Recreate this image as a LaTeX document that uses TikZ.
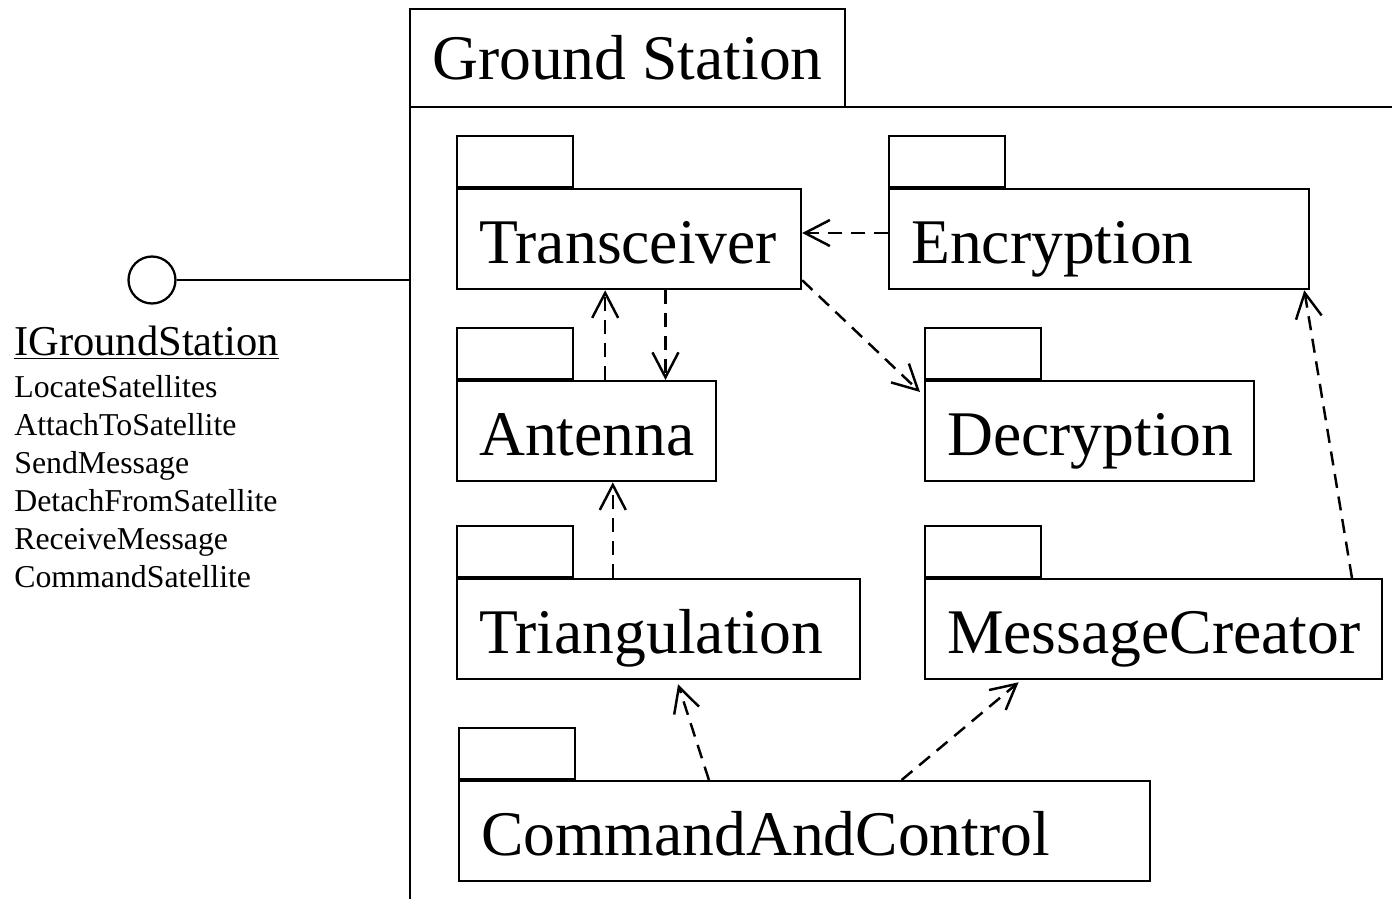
\documentclass[tikz,border=0pt]{standalone}
\usepackage{fontspec}
\setmainfont{Liberation Serif}
\usepackage{tikz}
\usetikzlibrary{arrows.meta,calc}

\tikzset{
  pkg/.style={draw, line width=1.3pt, anchor=north west, minimum height=2cm,
    inner xsep=0.44cm, inner ysep=0pt, text width=#1, align=left,
    text height=1.48cm, text depth=0.52cm,
    font=\fontsize{36.2}{40}\selectfont},
  tabbox/.style={draw, line width=1.3pt, anchor=south west, minimum width=2.32cm,
    minimum height=1.02cm, inner sep=0pt},
  dep/.style={line width=1.4pt, dash pattern=on 8pt off 5pt,
    -{Straight Barb[length=0.5cm, width=0.52cm]}},
  op/.style={anchor=base west, inner sep=0pt, font=\fontsize{18.1}{21}\selectfont},
}

\begin{document}
\begin{tikzpicture}[x=0.02cm, y=0.02cm]
        \useasboundingbox (0,0) rectangle (1392,-899);

        % outer package
        \node[draw, line width=1.4pt, anchor=north west, minimum width=8.7cm,
              minimum height=1.96cm, inner sep=0pt, outer sep=0pt,
              font=\fontsize{36.2}{40}\selectfont] (gs) at (410,-9) {Ground Station};
        \coordinate (frame right) at (1392,-107);
        \coordinate (frame bottom) at (410,-899);
        \draw[line width=1.4pt] (gs.south east) -- (gs.south east -| frame right);
        \draw[line width=1.4pt] (gs.south west) -- (gs.south west |- frame bottom);

        % interface
        \node[draw, circle, line width=1.3pt, minimum size=0.94cm, inner sep=0pt] (iface) at (152,-280) {};
        \draw[line width=1.3pt] (iface.east) -- (iface.east -| gs.south west);
        \node[anchor=base west, inner sep=0pt, font=\fontsize{24.2}{28}\selectfont] (ifname) at (14,-355) {\underline{IGroundStation}};
        \node[op] (op1) at (14,-397) {LocateSatellites};
        \node[op] (op2) at (14,-435) {AttachToSatellite};
        \node[op] (op3) at (14,-473) {SendMessage};
        \node[op] (op4) at (14,-511) {DetachFromSatellite};
        \node[op] (op5) at (14,-549) {ReceiveMessage};
        \node[op] (op6) at (14,-587) {CommandSatellite};

        % packages
        \node[pkg=6.00cm] (trans) at (456,-188) {Transceiver};
        \node[pkg=7.52cm] (enc) at (888,-188) {Encryption};
        \node[pkg=4.30cm] (ant) at (456,-380) {Antenna};
        \node[pkg=5.70cm] (dec) at (924,-380) {Decryption};
        \node[pkg=7.18cm] (tri) at (456,-578) {Triangulation};
        \node[pkg=8.26cm] (mc) at (924,-578) {MessageCreator};
        \node[pkg=12.94cm] (cac) at (458,-780) {CommandAndControl};

        \node[tabbox] (trans tab) at (trans.north west) {};
        \node[tabbox] (enc tab) at (enc.north west) {};
        \node[tabbox] (ant tab) at (ant.north west) {};
        \node[tabbox] (dec tab) at (dec.north west) {};
        \node[tabbox] (tri tab) at (tri.north west) {};
        \node[tabbox] (mc tab) at (mc.north west) {};
        \node[tabbox] (cac tab) at (cac.north west) {};

        % dependencies
        \draw[dep] ($(enc.north west)!0.44!(enc.south west)$) coordinate (e1) -- (e1 -| trans.east);
        \draw[dep] ($(ant.north west)!0.571!(ant.north east)$) coordinate (a1) -- (a1 |- trans.south);
        \draw[dep] ($(trans.south west)!0.605!(trans.south east)$) coordinate (t1) -- (t1 |- ant.north);
        \draw[dep] ($(trans.south east)+(0,10)$) -- ($(dec.north west)+(-4,-12)$);
        \draw[dep] ($(tri.north west)!0.387!(tri.north east)$) coordinate (r1) -- (r1 |- ant.south);
        \draw[dep] ($(mc.north west)!0.932!(mc.north east)$) -- ($(enc.south west)!0.986!(enc.south east)$);
        \draw[dep] ($(cac.north west)!0.362!(cac.north east)$) -- ($(tri.south west)!0.548!(tri.south east)+(0,-4)$);
        \draw[dep] ($(cac.north west)!0.64!(cac.north east)$) -- ($(mc.south west)!0.206!(mc.south east)+(0,-2)$); % cac -> mc
    \end{tikzpicture}
\end{document}
